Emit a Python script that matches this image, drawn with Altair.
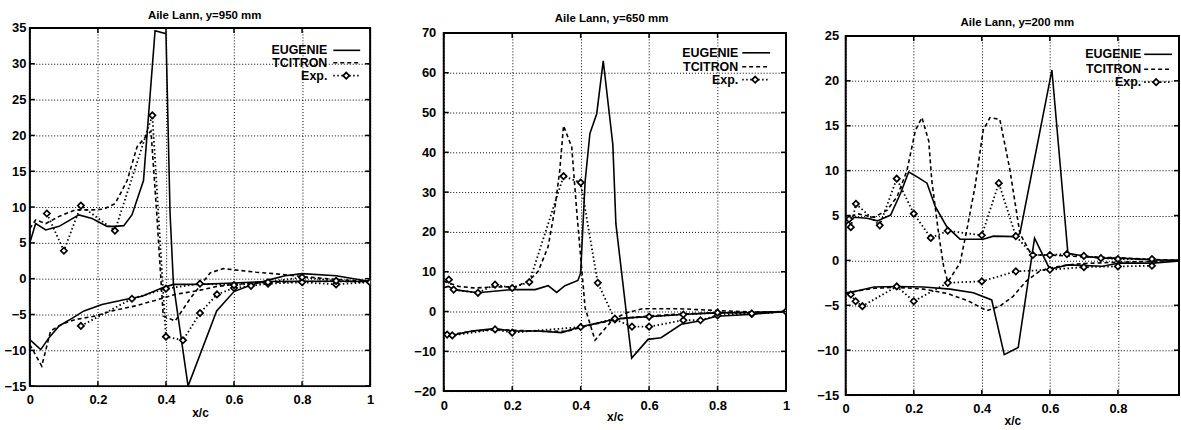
import altair as alt
import pandas as pd

FONT = "Liberation Sans"
SERIES = ["EUGENIE", "TCITRON", "Exp."]
X_TICKS = [0.0, 0.2, 0.4, 0.6, 0.8, 1.0]

# ---------------- Aile Lann, y=950 mm ----------------
TITLE_950 = "Aile Lann, y=950 mm"
Y_TICKS_950 = [-15, -10, -5, 0, 5, 10, 15, 20, 25, 30, 35]

EUG_950_UP_X = [0.0, 0.017, 0.047, 0.086, 0.144, 0.183, 0.227, 0.251, 0.276, 0.30, 0.334, 0.368, 0.40,
                0.412, 0.422, 0.465, 0.549, 0.60, 0.65, 0.70, 0.75, 0.80, 0.90, 1.0]
EUG_950_UP_Y = [5.0, 7.7, 6.8, 7.3, 8.9, 8.4, 7.3, 7.3, 7.4, 8.9, 13.7, 34.6, 34.2,
                9.2, -0.8, -15.0, -4.5, -1.8, -0.9, -0.2, 0.4, 0.7, 0.4, -0.4]
EUG_950_LO_X = [0.0, 0.032, 0.057, 0.086, 0.125, 0.159, 0.212, 0.28, 0.33, 0.388, 0.422, 0.50,
                0.60, 0.70, 0.80, 0.90, 1.0]
EUG_950_LO_Y = [-8.5, -9.9, -8.2, -6.6, -5.5, -4.5, -3.6, -2.9, -2.45, -1.3, -0.8, -0.8,
                -0.6, -0.4, -0.35, -0.35, -0.4]
TCI_950_UP_X = [0.0, 0.017, 0.047, 0.086, 0.134, 0.183, 0.217, 0.251, 0.286, 0.315, 0.344, 0.356,
                0.373, 0.392, 0.427, 0.471, 0.50, 0.53, 0.568, 0.665, 0.74, 0.80, 0.90, 1.0]
TCI_950_UP_Y = [7.0, 8.2, 7.7, 8.7, 9.6, 9.6, 9.7, 10.5, 13.7, 18.4, 20.0, 20.6,
                9.0, -5.2, -5.9, -2.8, -1.0, 0.8, 1.4, 0.9, 0.6, 0.3, -0.1, -0.4]
TCI_950_LO_X = [0.0, 0.035, 0.061, 0.096, 0.134, 0.193, 0.241, 0.31, 0.378, 0.427, 0.50, 0.549,
                0.60, 0.70, 0.80, 0.90, 1.0]
TCI_950_LO_Y = [-9.2, -12.2, -7.3, -6.3, -5.7, -5.2, -4.5, -3.8, -2.9, -2.2, -1.6, -1.1,
                -0.8, -0.5, -0.4, -0.4, -0.4]
EXP_950_UP_X = [0.05, 0.10, 0.15, 0.25, 0.36, 0.40, 0.45, 0.50, 0.55, 0.60, 0.65, 0.70, 0.80, 0.90, 1.0]
EXP_950_UP_Y = [9.1, 3.9, 10.2, 6.7, 22.8, -8.1, -8.6, -4.8, -2.2, -1.3, -1.0, -0.7, -0.5, -0.8, -0.5]
EXP_950_LO_X = [0.15, 0.30, 0.40, 0.50, 0.60, 0.70, 0.80, 0.90, 1.0]
EXP_950_LO_Y = [-6.6, -2.8, -1.4, -0.7, -0.9, -0.5, 0.2, -0.3, -0.5]

# ---------------- Aile Lann, y=650 mm ----------------
TITLE_650 = "Aile Lann, y=650 mm"
Y_TICKS_650 = [-20, -10, 0, 10, 20, 30, 40, 50, 60, 70]

EUG_650_UP_X = [0.0, 0.014, 0.029, 0.10, 0.20, 0.267, 0.305, 0.33, 0.354, 0.392, 0.40, 0.413, 0.427,
                0.447, 0.466, 0.494, 0.503, 0.549, 0.597, 0.635, 0.694, 0.747, 0.796, 0.893, 1.0]
EUG_650_UP_Y = [6.0, 6.3, 5.5, 4.7, 5.5, 5.5, 6.5, 4.8, 6.5, 7.8, 9.7, 32.6, 44.7,
                49.7, 63.0, 42.0, 22.0, -11.7, -7.0, -6.6, -3.2, -2.4, -1.2, -0.75, 0.0]
EUG_650_LO_X = [0.0, 0.024, 0.082, 0.148, 0.20, 0.276, 0.344, 0.397, 0.456, 0.494, 0.534, 0.597,
                0.694, 0.796, 0.893, 1.0]
EUG_650_LO_Y = [-5.5, -6.0, -4.9, -4.3, -4.9, -4.9, -5.3, -3.9, -2.8, -2.0, -1.6, -1.3,
                -0.75, -0.35, -0.3, 0.0]
TCI_650_UP_X = [0.0, 0.044, 0.092, 0.15, 0.208, 0.247, 0.276, 0.305, 0.324, 0.339, 0.35, 0.374,
                0.389, 0.413, 0.442, 0.494, 0.534, 0.582, 0.69, 0.796, 0.893, 1.0]
TCI_650_UP_Y = [7.6, 6.3, 5.9, 6.2, 6.2, 7.6, 10.1, 16.3, 25.5, 35.5, 46.7, 41.3,
                24.7, 0.9, -7.2, -2.0, -0.3, 0.7, 0.7, 0.25, -0.1, -0.2]
TCI_650_LO_X = [0.0, 0.02, 0.08, 0.15, 0.20, 0.30, 0.36, 0.40, 0.45, 0.50, 0.55, 0.60, 0.70, 0.80, 0.90, 1.0]
TCI_650_LO_Y = [-5.2, -5.8, -5.0, -4.5, -4.7, -5.0, -5.0, -4.0, -3.0, -2.1, -1.5, -1.1, -0.6, -0.3, -0.15, 0.0]
EXP_650_UP_X = [0.015, 0.029, 0.10, 0.15, 0.20, 0.25, 0.35, 0.40, 0.45, 0.50, 0.55, 0.60,
                0.70, 0.75, 0.80, 0.90, 1.0]
EXP_650_UP_Y = [8.0, 5.5, 4.7, 6.75, 5.9, 7.4, 34.0, 32.4, 7.2, -2.0, -3.8, -3.8,
                -2.2, -2.2, -1.0, -0.6, 0.0]
EXP_650_LO_X = [0.01, 0.025, 0.15, 0.20, 0.40, 0.50, 0.60, 0.70, 0.80, 0.90, 1.0]
EXP_650_LO_Y = [-5.8, -6.0, -4.5, -5.3, -3.9, -1.8, -1.3, -0.75, -0.3, -0.5, 0.0]

# ---------------- Aile Lann, y=200 mm ----------------
TITLE_200 = "Aile Lann, y=200 mm"
Y_TICKS_200 = [-15, -10, -5, 0, 5, 10, 15, 20, 25]

EUG_200_UP_X = [0.0, 0.024, 0.063, 0.093, 0.132, 0.161, 0.185, 0.21, 0.239, 0.263, 0.297, 0.336,
                0.404, 0.434, 0.497, 0.512, 0.606, 0.653, 0.707, 0.755, 0.804, 0.902, 1.0]
EUG_200_UP_Y = [4.0, 4.8, 4.7, 4.4, 5.05, 7.45, 9.85, 9.3, 8.6, 6.0, 3.76, 2.36,
                2.36, 2.7, 2.65, 3.0, 21.2, 0.8, 0.44, 0.25, 0.25, 0.07, 0.0]
EUG_200_LO_X = [0.0, 0.029, 0.083, 0.151, 0.229, 0.307, 0.375, 0.429, 0.466, 0.507, 0.555, 0.60,
                0.653, 0.755, 0.804, 0.902, 1.0]
EUG_200_LO_Y = [-3.6, -3.44, -2.96, -2.9, -2.96, -3.2, -3.6, -4.4, -10.5, -9.7, 2.47, -1.0,
                -0.5, -0.65, -0.3, -0.3, 0.0]
TCI_200_UP_X = [0.0, 0.034, 0.083, 0.122, 0.151, 0.18, 0.205, 0.224, 0.244, 0.253, 0.273, 0.288,
                0.30, 0.336, 0.356, 0.38, 0.404, 0.424, 0.453, 0.482, 0.512, 0.546, 0.60, 0.70,
                0.80, 0.90, 1.0]
TCI_200_UP_Y = [4.5, 5.2, 4.8, 5.6, 7.1, 10.0, 14.5, 15.9, 13.3, 8.9, 3.0, -0.7,
                -2.4, -0.3, 3.4, 8.2, 14.5, 15.9, 15.7, 10.2, 3.0, 0.6, 0.6, 0.4,
                0.3, 0.1, 0.0]
TCI_200_LO_X = [0.0, 0.034, 0.083, 0.151, 0.229, 0.30, 0.36, 0.414, 0.453, 0.492, 0.53, 0.57,
                0.60, 0.653, 0.70, 0.80, 0.90, 1.0]
TCI_200_LO_Y = [-3.7, -3.4, -3.1, -3.0, -3.2, -3.7, -4.5, -5.6, -5.1, -4.0, -2.33, -1.2,
                -0.85, -0.5, -0.35, -0.2, -0.1, 0.0]
EXP_200_UP_X = [0.01, 0.015, 0.03, 0.10, 0.15, 0.20, 0.25, 0.30, 0.40, 0.45, 0.50, 0.55,
                0.60, 0.65, 0.70, 0.75, 0.80, 0.90]
EXP_200_UP_Y = [4.6, 3.7, 6.3, 3.9, 9.1, 5.2, 2.5, 3.3, 2.8, 8.6, 2.7, 0.6,
                0.6, 0.7, 0.5, 0.25, 0.15, 0.15]
EXP_200_LO_X = [0.015, 0.029, 0.049, 0.15, 0.20, 0.30, 0.40, 0.50, 0.60, 0.70, 0.80, 0.90]
EXP_200_LO_Y = [-3.8, -4.55, -5.1, -2.9, -4.55, -2.5, -2.33, -1.22, -1.04, -0.75, -0.67, -0.6]


def curves(*parts):
    """Long table: one row per point, with the curve it belongs to and its order."""
    rows = []
    for name, xs, vs in parts:
        for i, (x, v) in enumerate(zip(xs, vs)):
            rows.append({"curve": name, "i": i, "x": x, "v": v})
    return pd.DataFrame(rows)


def axis_common(**kw):
    return alt.Axis(
        grid=True, gridDash=[1, 2], gridColor="black", gridOpacity=1, gridWidth=1,
        ticks=False, tickSize=0, domain=False,
        labelFont=FONT, labelFontSize=13, labelFontWeight="bold", labelColor="black",
        labelFlush=False, labelOverlap=False,
        titleFont=FONT, titleFontSize=12, titleFontWeight="bold", titleColor="black",
        **kw,
    )


def panel(p):
    W, H = p["w"], p["h"]
    xmax = p.get("xmax", 1.0)
    x_ticks = [t for t in X_TICKS if t <= xmax]
    xscale = alt.Scale(domain=[0, xmax], nice=False, zero=False)
    yscale = alt.Scale(domain=p["ydom"], nice=False, zero=False)
    X = alt.X("x:Q", scale=xscale,
              axis=axis_common(values=x_ticks, format=".1~f", title="x/c",
                               labelPadding=p["xlp"], titlePadding=p["xtp"]))
    Y = alt.Y("v:Q", scale=yscale,
              axis=axis_common(values=p["yticks"], format="d", title=None,
                               labelPadding=p["ylp"]))

    eug = alt.Chart(curves(*p["eug"])).mark_line(
        color="black", strokeWidth=1.6, clip=True
    ).encode(X, Y, detail="curve:N", order="i:Q")
    tci = alt.Chart(curves(*p["tci"])).mark_line(
        color="black", strokeWidth=1.6, strokeDash=[4, 3], clip=True
    ).encode(X, Y, detail="curve:N", order="i:Q")
    exp_df = curves(*p["exp"])
    exp_line = alt.Chart(exp_df).mark_line(
        color="black", strokeWidth=1.8, strokeDash=[1.5, 2.5], clip=True
    ).encode(X, Y, detail="curve:N", order="i:Q")
    marker = dict(shape="diamond", size=40, filled=True, fill="white",
                  stroke="black", strokeWidth=1.7, opacity=1)
    exp_pts = alt.Chart(exp_df).mark_point(clip=True, **marker).encode(X, Y)

    # gnuplot-style inward tick marks on all four sides
    xt = pd.DataFrame({"x": x_ticks})
    yt = pd.DataFrame({"v": p["yticks"]})
    tk = dict(color="black", strokeWidth=1.5)
    tick_b = alt.Chart(xt).mark_rule(**tk).encode(x=X, y=alt.value(H), y2=alt.value(H - 5))
    tick_t = alt.Chart(xt).mark_rule(**tk).encode(x=X, y=alt.value(0), y2=alt.value(5))
    tick_l = alt.Chart(yt).mark_rule(**tk).encode(y=Y, x=alt.value(0), x2=alt.value(5))
    tick_r = alt.Chart(yt).mark_rule(**tk).encode(y=Y, x=alt.value(W - 5), x2=alt.value(W))

    one = pd.DataFrame({"k": [0]})
    lg = p["legend"]
    legend = []
    dashes = [None, [4, 3], [1.5, 2.5]]
    for name, row, dash in zip(SERIES, lg["rows"], dashes):
        legend.append(
            alt.Chart(one).mark_text(
                align="right", baseline="middle", font=FONT, fontSize=12.5,
                fontWeight="bold", color="black"
            ).encode(x=alt.value(lg["tx"]), y=alt.value(row), text=alt.value(name))
        )
        rule_kw = dict(color="black", strokeWidth=1.6 if dash != [1.5, 2.5] else 1.8)
        if dash:
            rule_kw["strokeDash"] = dash
        legend.append(
            alt.Chart(one).mark_rule(**rule_kw).encode(
                x=alt.value(lg["x1"]), x2=alt.value(lg["x2"]), y=alt.value(row))
        )
    legend.append(
        alt.Chart(one).mark_point(**marker).encode(
            x=alt.value(lg["xm"]), y=alt.value(lg["rows"][2]))
    )

    title = alt.Chart(one).mark_text(
        align="center", baseline="middle", font=FONT, fontSize=11.5,
        fontWeight="bold", color="black"
    ).encode(x=alt.value(W / 2 + p["tdx"]), y=alt.value(p["ty"]), text=alt.value(p["title"]))

    # invisible guide that fixes the panel's outer extent
    extent = alt.Chart(one).mark_rule(strokeOpacity=0, strokeWidth=0.01).encode(
        x=alt.value(-p["ext"][0]), x2=alt.value(W + p["ext"][1]), y=alt.value(-p["ext"][2])
    )

    layers = [eug, tci, exp_line, exp_pts, tick_b, tick_t, tick_l, tick_r, title, extent] + legend
    body = alt.layer(*layers).properties(width=W, height=H)

    # blank strip above the panel, shifting it down by its own amount
    spacer = alt.Chart(one).mark_rule(strokeOpacity=0, strokeWidth=0.01).encode(
        x=alt.value(0), x2=alt.value(1), y=alt.value(0)
    ).properties(width=W, height=p["drop"],
                 view=alt.ViewBackground(strokeOpacity=0, strokeWidth=0))
    return alt.vconcat(spacer, body, spacing=0)


TOP = 24.5

p950 = panel(dict(
    title=TITLE_950, w=342, h=360, ydom=[-15, 35], yticks=Y_TICKS_950,
    eug=[("up", EUG_950_UP_X, EUG_950_UP_Y), ("lo", EUG_950_LO_X, EUG_950_LO_Y)],
    tci=[("up", TCI_950_UP_X, TCI_950_UP_Y), ("lo", TCI_950_LO_X, TCI_950_LO_Y)],
    exp=[("up", EXP_950_UP_X, EXP_950_UP_Y), ("lo", EXP_950_LO_X, EXP_950_LO_Y)],
    xlp=7, xtp=2, ylp=4, tdx=4.7, ty=-12, ext=(29, 29, TOP), drop=1,
    legend=dict(tx=299, x1=305, x2=332, xm=318, rows=[22.5, 35, 48]),
))
p650 = panel(dict(
    title=TITLE_650, w=344, h=360, ydom=[-20, 70], yticks=Y_TICKS_650,
    eug=[("up", EUG_650_UP_X, EUG_650_UP_Y), ("lo", EUG_650_LO_X, EUG_650_LO_Y)],
    tci=[("up", TCI_650_UP_X, TCI_650_UP_Y), ("lo", TCI_650_LO_X, TCI_650_LO_Y)],
    exp=[("up", EXP_650_UP_X, EXP_650_UP_Y), ("lo", EXP_650_LO_X, EXP_650_LO_Y)],
    xlp=8, xtp=0, ylp=8, tdx=-3.3, ty=-14, ext=(43, 13, TOP), drop=6,
    legend=dict(tx=296, x1=300, x2=328, xm=313, rows=[20, 34, 47]),
))
# the right-hand panel runs past the page edge: only x/c up to ~0.98 is in view
p200 = panel(dict(
    title=TITLE_200, w=335, h=361, ydom=[-15, 25], yticks=Y_TICKS_200, xmax=335 / 342,
    eug=[("up", EUG_200_UP_X, EUG_200_UP_Y), ("lo", EUG_200_LO_X, EUG_200_LO_Y)],
    tci=[("up", TCI_200_UP_X, TCI_200_UP_Y), ("lo", TCI_200_LO_X, TCI_200_LO_Y)],
    exp=[("up", EXP_200_UP_X, EXP_200_UP_Y), ("lo", EXP_200_LO_X, EXP_200_LO_Y)],
    xlp=7.5, xtp=0, ylp=7, tdx=1.5 + 3.5, ty=-13, ext=(45, 1, TOP), drop=9,
    legend=dict(tx=297, x1=300, x2=328, xm=312, rows=[18.5, 33.5, 46.5]),
))

chart = alt.hconcat(p950, p650, p200, spacing=0).configure_view(
    stroke="black", strokeWidth=2
).properties(padding=0, background="white")

chart.save("out.html", embed_options={"renderer": "svg", "actions": False})
